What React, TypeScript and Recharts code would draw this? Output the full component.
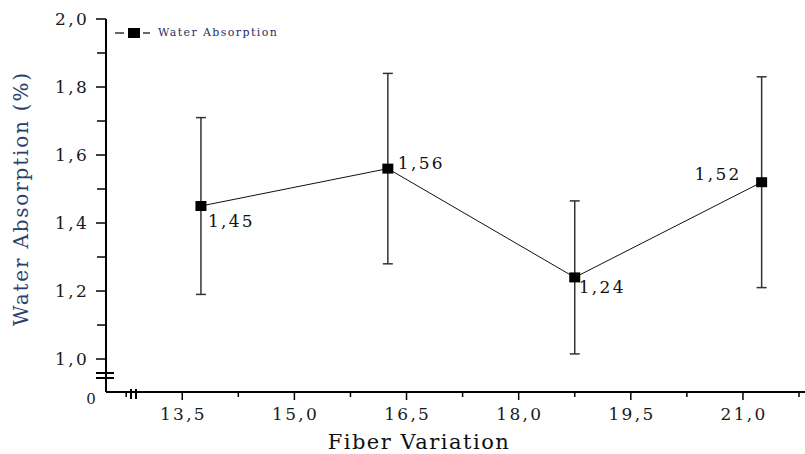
import React from 'react';
import { LineChart, Line, XAxis, YAxis, ErrorBar, LabelList, Legend } from 'recharts';

const fiberVariation = [13.75, 16.25, 18.75, 21.25];
const waterAbsorption = [1.45, 1.56, 1.24, 1.52];
const absorptionError = [0.26, 0.28, 0.225, 0.31];
const xMajorTicks = [13.5, 15.0, 16.5, 18.0, 19.5, 21.0];
const xMinorTicks = [12.75, 14.25, 15.75, 17.25, 18.75, 20.25, 21.75];
const yMajorTicks = [1.0, 1.2, 1.4, 1.6, 1.8, 2.0];
const yMinorTicks = [1.1, 1.3, 1.5, 1.7, 1.9];
const seriesName = 'Water Absorption';
const xTitle = 'Fiber Variation';
const yTitle = 'Water Absorption (%)';

const data = fiberVariation.map((x, i) => ({ x, y: waterAbsorption[i], err: absorptionError[i] }));

const FONT = '"DejaVu Serif", serif';
const fmt = (v: number) => v.toFixed(1).replace('.', ',');
const fmt2 = (v: number) => v.toFixed(2).replace('.', ',');
const isIn = (arr: number[], v: number) => arr.some((m) => Math.abs(m - v) < 1e-6);

const tickStyle: React.CSSProperties = { fontFamily: FONT, fontSize: 17, letterSpacing: 2.3, fill: '#1a1a1a' };

const XTick = (props: any) => {
  const { x, y, payload } = props;
  const v = payload.value;
  const major = isIn(xMajorTicks, v);
  return (
    <g>
      <line x1={x} x2={x} y1={y} y2={y + (major ? 8 : 5)} stroke="#000" strokeWidth={1.5} />
      {major && (
        <text x={x + 1.2} y={y + 28} textAnchor="middle" style={tickStyle}>
          {fmt(v)}
        </text>
      )}
    </g>
  );
};

const YTick = (props: any) => {
  const { x, y, payload } = props;
  const v = payload.value;
  const major = isIn(yMajorTicks, v);
  return (
    <g>
      <line x1={x - (major ? 10 : 9)} x2={x} y1={y} y2={y} stroke="#000" strokeWidth={1.5} />
      {major && (
        <text x={x - 17} y={y + 6} textAnchor="end" style={tickStyle}>
          {fmt(v)}
        </text>
      )}
    </g>
  );
};

const SquareDot = (p: any) => {
  if (p.cx == null || p.cy == null) return <g />;
  return <rect x={p.cx - 5.5} y={p.cy - 5} width={11} height={10} fill="#000" />;
};

const labelPlacement = [
  { dx: 7, dy: 21, anchor: 'start' },
  { dx: 10, dy: 0, anchor: 'start' },
  { dx: 4, dy: 16, anchor: 'start' },
  { dx: -20, dy: -2, anchor: 'end' },
];

const ValueLabel = (props: any) => {
  const { x, y, value, index } = props;
  const p = labelPlacement[index] || labelPlacement[0];
  return (
    <text x={x + p.dx} y={y + p.dy} textAnchor={p.anchor} style={{ ...tickStyle, fill: '#111' }}>
      {fmt2(value)}
    </text>
  );
};

const LegendContent = () => (
  <div style={{ display: 'flex', alignItems: 'center', fontFamily: FONT, fontSize: 11, letterSpacing: 1.4, color: '#1f2f5f', whiteSpace: 'nowrap' }}>
    <svg width={37} height={12} style={{ display: 'block' }}>
      <line x1={1} x2={10} y1={6} y2={6} stroke="#000" strokeWidth={1.2} />
      <line x1={29} x2={36} y1={6} y2={6} stroke="#000" strokeWidth={1.2} />
      <rect x={14} y={1} width={12} height={10} fill="#000" />
    </svg>
    <span style={{ marginLeft: 7 }}>{seriesName}</span>
  </div>
);

export default function App() {
  const xTicks = [...xMajorTicks, ...xMinorTicks].sort((a, b) => a - b);
  const yTicks = [...yMajorTicks, ...yMinorTicks].sort((a, b) => a - b);
  return (
    <div style={{ position: 'absolute', left: 0, top: 0, width: 805, height: 454, background: '#fff' }}>
      <LineChart width={805} height={454} data={data} margin={{ top: 19, right: 0, left: 0, bottom: 0 }}>
        <XAxis
          type="number"
          dataKey="x"
          domain={[12.48, 21.83]}
          allowDataOverflow
          ticks={xTicks}
          interval={0}
          tickSize={0}
          tickMargin={0}
          tickLine={false}
          tick={<XTick />}
          height={62}
          axisLine={{ stroke: '#000', strokeWidth: 2 }}
          label={{
            content: (lp: any) => {
              const vb = lp.viewBox || { x: 106, y: 392 };
              return (
                <text x={vb.x + 313} y={vb.y + 57} textAnchor="middle" style={{ fontFamily: FONT, fontSize: 21, letterSpacing: 1.5, fill: '#111' }}>
                  {xTitle}
                </text>
              );
            },
          }}
        />
        <YAxis
          type="number"
          domain={[0.903, 2.0]}
          allowDataOverflow
          ticks={yTicks}
          interval={0}
          tickSize={0}
          tickMargin={0}
          tickLine={false}
          tick={<YTick />}
          width={106}
          axisLine={{ stroke: '#000', strokeWidth: 2 }}
          label={{
            content: (lp: any) => {
              const vb = lp.viewBox || { x: 0, y: 19, height: 373 };
              const cy = vb.y + vb.height / 2 - 7;
              return (
                <text
                  transform={`translate(${vb.x + 28},${cy}) rotate(-90)`}
                  textAnchor="middle"
                  style={{ fontFamily: FONT, fontSize: 20, letterSpacing: 1.8, fill: '#2a3f6e' }}
                >
                  {yTitle}
                </text>
              );
            },
          }}
        />
        <Legend
          verticalAlign="middle"
          layout="horizontal"
          wrapperStyle={{ position: 'absolute', left: 114, top: 26, width: 'auto' }}
          content={<LegendContent />}
        />
        <Line
          type="linear"
          dataKey="y"
          name={seriesName}
          stroke="#111"
          strokeWidth={1}
          dot={<SquareDot />}
          activeDot={false}
          isAnimationActive={false}
        >
          <ErrorBar dataKey="err" direction="y" width={5} stroke="#333" strokeWidth={1.5} isAnimationActive={false} />
          <LabelList dataKey="y" content={<ValueLabel />} />
        </Line>
      </LineChart>
      <svg width={805} height={454} style={{ position: 'absolute', left: 0, top: 0, pointerEvents: 'none' }}>
        <line x1={96} x2={114} y1={373} y2={373} stroke="#000" strokeWidth={2} />
        <line x1={96} x2={114} y1={378} y2={378} stroke="#000" strokeWidth={2} />
        <line x1={131} x2={131} y1={389} y2={399} stroke="#000" strokeWidth={2} />
        <line x1={136} x2={136} y1={389} y2={399} stroke="#000" strokeWidth={2} />
        <text x={91} y={404} textAnchor="middle" style={{ fontFamily: FONT, fontSize: 15, fill: '#222' }}>0</text>
      </svg>
    </div>
  );
}
